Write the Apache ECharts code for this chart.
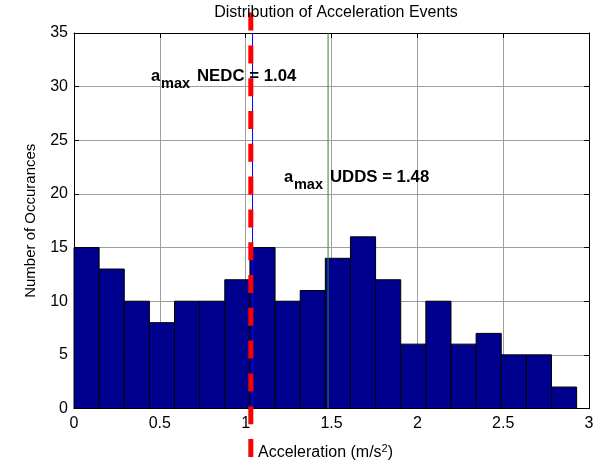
<!DOCTYPE html>
<html><head><meta charset="utf-8">
<script src="https://cdn.jsdelivr.net/npm/echarts@6/dist/echarts.min.js"></script>
<style>html,body{margin:0;padding:0;background:#fff}#c{width:603px;height:466px}</style>
</head><body><div id="c"></div>
<script>
// ---- data ----
const counts = [15,13,10,8,10,10,12,15,10,11,14,16,12,6,10,6,7,5,5,2];
const binStart = 0;
const binWidth = 0.1464;
const xTickLabels = ['0','0.5','1','1.5','2','2.5','3'];
const yTickLabels = ['0','5','10','15','20','25','30','35'];
const nedcLineX = 1.03;     // red dashed marker
const nedcValueX = 1.04;    // thin blue line
const uddsValueX = 1.48;    // thin green line
const annotations = [
  {pos: [0.4485, 30.38], name: 'NEDC', value: '1.04'},
  {pos: [1.223, 20.96], name: 'UDDS', value: '1.48'}
];

const FONT = 'Liberation Sans, Arial, sans-serif';
const bins = counts.map((c, i) => [binStart + i * binWidth, binStart + (i + 1) * binWidth, c]);

const chart = echarts.init(document.getElementById('c'), null, {renderer: 'canvas'});

const axisCommon = {
  type: 'value', min: 0,
  axisLine: {show: true, onZero: false, lineStyle: {color: '#000', width: 1}},
  axisTick: {show: true, inside: true, length: 5, lineStyle: {color: '#000'}},
  splitLine: {show: false}
};

chart.setOption({
  animation: false,
  backgroundColor: '#fff',
  title: {
    text: 'Distribution of Acceleration Events',
    left: 331, top: 0, textAlign: 'center',
    textStyle: {fontFamily: FONT, fontSize: 16, fontWeight: 'normal', color: '#000'}
  },
  grid: {left: 74, right: 14, top: 33, bottom: 54, containLabel: false},
  xAxis: [
    Object.assign({}, axisCommon, {
      position: 'bottom', max: 3, interval: 0.5,
      axisLabel: {fontFamily: FONT, fontSize: 16, color: '#000', margin: 7,
        formatter: (v) => xTickLabels[Math.round(v / 0.5)]},
      splitLine: {show: true, lineStyle: {color: '#9e9e9e', width: 1}},
      name: 'Acceleration (m/s{sup|2})', nameLocation: 'middle', nameGap: 35,
      nameTextStyle: {fontFamily: FONT, fontSize: 16, color: '#000', padding: [0, 12, 0, 0],
        rich: {sup: {fontFamily: FONT, fontSize: 11, color: '#000', verticalAlign: 'top', padding: [0,0,8,0]}}}
    }),
    Object.assign({}, axisCommon, {
      position: 'top', max: 3, interval: 0.5, axisLabel: {show: false}
    })
  ],
  yAxis: [
    Object.assign({}, axisCommon, {
      position: 'left', max: 35, interval: 5,
      axisLabel: {fontFamily: FONT, fontSize: 16, color: '#000', margin: 6,
        formatter: (v) => yTickLabels[Math.round(v / 5)]},
      splitLine: {show: true, lineStyle: {color: '#9e9e9e', width: 1}},
      name: 'Number of Occurances', nameLocation: 'middle', nameGap: 36,
      nameTextStyle: {fontFamily: FONT, fontSize: 15, color: '#000'}
    }),
    Object.assign({}, axisCommon, {
      position: 'right', max: 35, interval: 5, axisLabel: {show: false}
    })
  ],
  series: [
    {
      type: 'custom', name: 'hist', z: 2,
      data: bins,
      renderItem: (params, api) => {
        const p0 = api.coord([api.value(0), api.value(2)]);
        const p1 = api.coord([api.value(1), 0]);
        return {type: 'rect',
          shape: {x: p0[0], y: p0[1], width: p1[0] - p0[0], height: p1[1] - p0[1]},
          style: {fill: '#00008F', stroke: '#000', lineWidth: 1}};
      }
    },
    {
      type: 'custom', name: 'thinLines', z: 3,
      data: [[nedcValueX], [uddsValueX]],
      renderItem: (params, api) => {
        const x = api.value(0);
        const a = api.coord([x, 35]);
        const b = api.coord([x, 0]);
        const color = params.dataIndex === 0 ? '#0000FF' : '#2a8a2a';
        return {type: 'line', shape: {x1: a[0], y1: a[1], x2: b[0], y2: b[1]},
          style: {stroke: color, lineWidth: 1}};
      }
    },
    {
      type: 'custom', name: 'nedcDashed', z: 5, clip: false,
      data: [[nedcLineX]],
      renderItem: (params, api) => {
        const x = api.value(0);
        const a = api.coord([x, 36.9]);
        const b = api.coord([x, -5.5]);
        return {type: 'line', shape: {x1: a[0], y1: a[1], x2: b[0], y2: b[1]},
          style: {stroke: '#FF0000', lineWidth: 5, lineDash: [18, 14.8]}};
      }
    },
    {
      type: 'custom', name: 'annot', z: 6, clip: false,
      data: annotations.map(a => [a.pos[0], a.pos[1]]),
      renderItem: (params, api) => {
        const ann = annotations[params.dataIndex];
        const p = api.coord([api.value(0), api.value(1)]);
        const base = p[1];
        return {type: 'group', children: [
          {type: 'text', x: p[0], y: base - 5.8,
            style: {text: 'a', font: 'bold 16.5px ' + FONT, fill: '#000', align: 'left', verticalAlign: 'middle'}},
          {type: 'text', x: p[0] + 10, y: base + 6.5 - 5,
            style: {text: 'max', font: 'bold 14.5px ' + FONT, fill: '#000', align: 'left', verticalAlign: 'middle'}},
          {type: 'text', x: p[0] + 46, y: base - 5.8,
            style: {text: ann.name + ' = ' + ann.value, font: 'bold 16.8px ' + FONT, fill: '#000', align: 'left', verticalAlign: 'middle'}}
        ]};
      }
    }
  ]
});
</script>
</body></html>
